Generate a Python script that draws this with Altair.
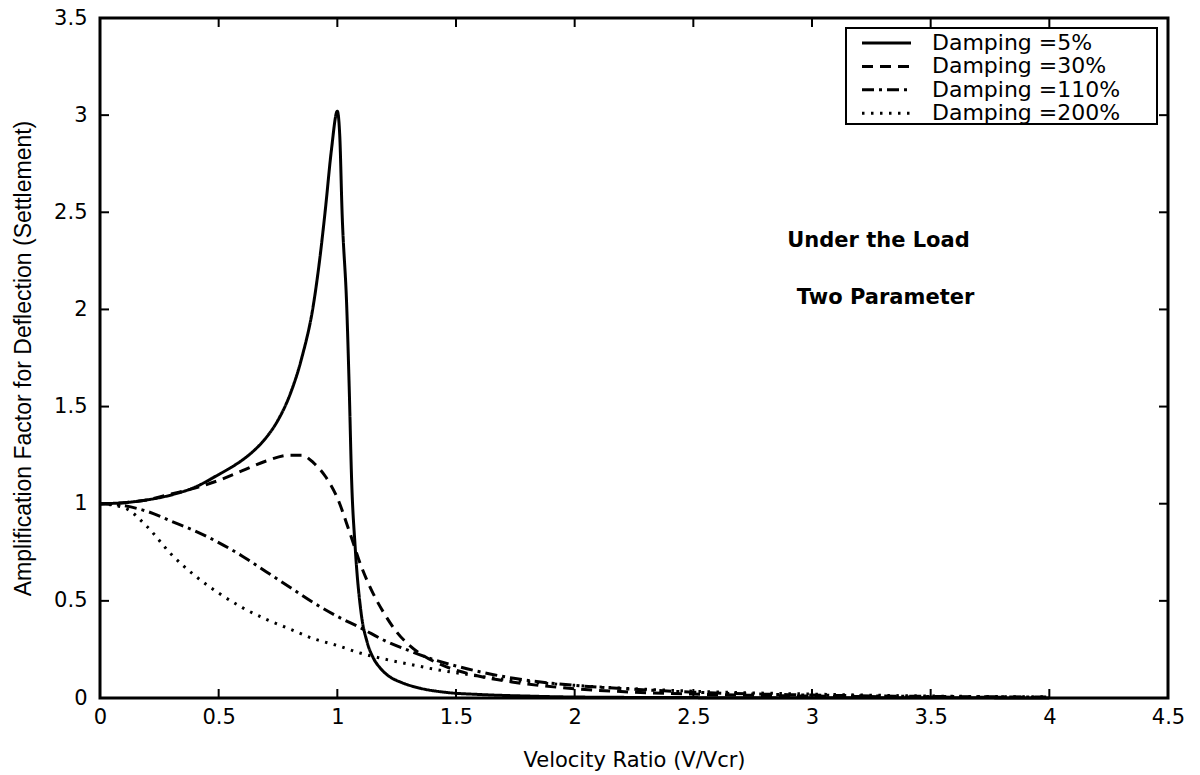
import altair as alt
import pandas as pd

# ---- data ----
x5 = [0, 0.1, 0.2, 0.3, 0.4, 0.5, 0.55, 0.6, 0.65, 0.7, 0.75, 0.8, 0.85, 0.9, 0.925, 0.95, 0.975, 1.0,
      1.01, 1.02, 1.04, 1.05, 1.06, 1.075, 1.1, 1.125, 1.15, 1.18, 1.22, 1.27, 1.35, 1.45, 1.6, 1.8,
      2.0, 2.5, 3.0, 3.5, 4.0]
y5 = [1.0, 1.005, 1.02, 1.045, 1.085, 1.15, 1.185, 1.225, 1.275, 1.34, 1.43, 1.56, 1.75, 2.03, 2.25, 2.52,
      2.82, 3.02, 2.9, 2.5, 2.0, 1.6, 1.13, 0.78, 0.44, 0.29, 0.21, 0.155, 0.11, 0.08, 0.05, 0.03, 0.018,
      0.01, 0.005, 0.002, 0.001, 0.001, 0.0]

x30 = [0, 0.1, 0.2, 0.3, 0.4, 0.5, 0.6, 0.7, 0.8, 0.85, 0.9, 0.95, 1.0, 1.05, 1.1, 1.15,
       1.2, 1.25, 1.3, 1.36, 1.45, 1.57, 1.75, 2.0, 2.25, 2.5, 3.0, 3.5, 4.0]
y30 = [1.0, 1.005, 1.02, 1.05, 1.08, 1.12, 1.17, 1.22, 1.25, 1.25, 1.21, 1.14, 1.03, 0.86, 0.68, 0.54,
       0.43, 0.34, 0.275, 0.22, 0.165, 0.12, 0.08, 0.048, 0.03, 0.02, 0.01, 0.005, 0.003]

x110 = [0, 0.1, 0.2, 0.3, 0.4, 0.5, 0.6, 0.7, 0.8, 0.9, 1.0, 1.1, 1.2, 1.3, 1.4, 1.5,
        1.6, 1.75, 2.0, 2.25, 2.5, 3.0, 3.5, 4.0]
y110 = [1.0, 0.99, 0.96, 0.91, 0.86, 0.80, 0.73, 0.65, 0.57, 0.49, 0.42, 0.36, 0.295, 0.245, 0.20, 0.165,
        0.135, 0.10, 0.065, 0.045, 0.03, 0.015, 0.008, 0.005]

x200 = [0, 0.1, 0.2, 0.3, 0.4, 0.5, 0.6, 0.7, 0.8, 0.9, 1.0, 1.1, 1.2, 1.3, 1.4, 1.5,
        1.75, 2.0, 2.5, 3.0, 3.5, 4.0]
y200 = [1.0, 0.98, 0.88, 0.74, 0.63, 0.54, 0.465, 0.405, 0.355, 0.305, 0.27, 0.23, 0.2, 0.175, 0.15, 0.13,
        0.09, 0.065, 0.035, 0.02, 0.01, 0.006]

series_names = ["Damping =5%", "Damping =30%", "Damping =110%", "Damping =200%"]
dash_patterns = [[1, 0], [11, 7], [12, 5, 3, 5], [2.5, 6.5]]

x_ticks = [0, 0.5, 1, 1.5, 2, 2.5, 3, 3.5, 4, 4.5]
y_ticks = [0, 0.5, 1, 1.5, 2, 2.5, 3, 3.5]

notes = ["Under the Load", "Two Parameter"]
note_x = [3.28, 3.31]
note_y = [2.35, 2.06]

rows = []
for name, xs, ys in zip(series_names, [x5, x30, x110, x200], [y5, y30, y110, y200]):
    for xv, yv in zip(xs, ys):
        rows.append({"v": xv, "a": yv, "s": name})
df = pd.DataFrame(rows)

W, H = 1068, 680
FONT = "DejaVu Sans"

xscale = alt.Scale(domain=[0, 4.5], nice=False, zero=False)
yscale = alt.Scale(domain=[0, 3.5], nice=False, zero=False)
dash_scale = alt.Scale(domain=series_names, range=dash_patterns)

xaxis = alt.Axis(values=x_ticks, format="~g", title="Velocity Ratio (V/Vcr)", grid=False,
                 ticks=False, domain=False, labelFontSize=21, labelFont=FONT, labelColor="black",
                 labelPadding=8, titleFont=FONT, titleFontSize=21, titleFontWeight="normal",
                 titleColor="black", titlePadding=22, labelFlush=False)
yaxis = alt.Axis(values=y_ticks, format="~g",
                 title="Amplification Factor for Deflection (Settlement)", grid=False,
                 ticks=False, domain=False, labelFontSize=21, labelFont=FONT, labelColor="black",
                 labelPadding=13, titleFont="Liberation Sans", titleFontSize=23,
                 titleFontWeight="normal", titleColor="black", titlePadding=18, labelFlush=False)

lines = alt.Chart(df).mark_line(color="black", strokeWidth=3, interpolate="monotone").encode(
    x=alt.X("v:Q", scale=xscale, axis=xaxis),
    y=alt.Y("a:Q", scale=yscale, axis=yaxis),
    strokeDash=alt.StrokeDash("s:N", scale=dash_scale, legend=None),
    detail="s:N",
)

xt = pd.DataFrame({"v": x_ticks[1:-1]})
yt = pd.DataFrame({"a": y_ticks[1:-1]})
tick_len = 9
bottom_ticks = alt.Chart(xt).mark_rule(color="black", strokeWidth=2).encode(
    x=alt.X("v:Q", scale=xscale), y=alt.value(H), y2=alt.value(H - tick_len))
top_ticks = alt.Chart(xt).mark_rule(color="black", strokeWidth=2).encode(
    x=alt.X("v:Q", scale=xscale), y=alt.value(0), y2=alt.value(tick_len))
left_ticks = alt.Chart(yt).mark_rule(color="black", strokeWidth=2).encode(
    y=alt.Y("a:Q", scale=yscale), x=alt.value(0), x2=alt.value(tick_len))
right_ticks = alt.Chart(yt).mark_rule(color="black", strokeWidth=2).encode(
    y=alt.Y("a:Q", scale=yscale), x=alt.value(W), x2=alt.value(W - tick_len))

ann = alt.Chart(pd.DataFrame({"v": note_x, "a": note_y, "t": notes})).mark_text(
    font=FONT, fontSize=21, fontWeight="bold", color="black", align="center", baseline="middle"
).encode(x=alt.X("v:Q", scale=xscale), y=alt.Y("a:Q", scale=yscale), text="t:N")

# ---- legend drawn as a box with one sample line and label per series ----
LX0, LX1, LY0, LY1 = 746, 1057, 10, 106
row0, row_step = 25, 23.4
legend_layers = [
    alt.Chart(pd.DataFrame({"k": [0]})).mark_rect(
        fill="white", stroke="black", strokeWidth=2
    ).encode(x=alt.value(LX0), x2=alt.value(LX1), y=alt.value(LY0), y2=alt.value(LY1))
]
for i, name in enumerate(series_names):
    ry = row0 + i * row_step
    one = pd.DataFrame({"s": [name]})
    legend_layers.append(
        alt.Chart(one).mark_rule(color="black", strokeWidth=3).encode(
            x=alt.value(762), x2=alt.value(811), y=alt.value(ry),
            strokeDash=alt.StrokeDash("s:N", scale=dash_scale, legend=None))
    )
    legend_layers.append(
        alt.Chart(one).mark_text(font=FONT, fontSize=22, color="black", align="left",
                                 baseline="middle").encode(
            x=alt.value(832), y=alt.value(ry), text="s:N")
    )

chart = alt.layer(bottom_ticks, top_ticks, left_ticks, right_ticks, lines, ann,
                  *legend_layers).properties(
    width=W, height=H,
    autosize=alt.AutoSizeParams(type="none"),
    padding={"left": 100, "top": 18, "right": 32, "bottom": 77},
    background="white",
).configure_view(stroke="black", strokeWidth=3)

chart.save("out.html", embed_options={"renderer": "svg", "actions": False})
